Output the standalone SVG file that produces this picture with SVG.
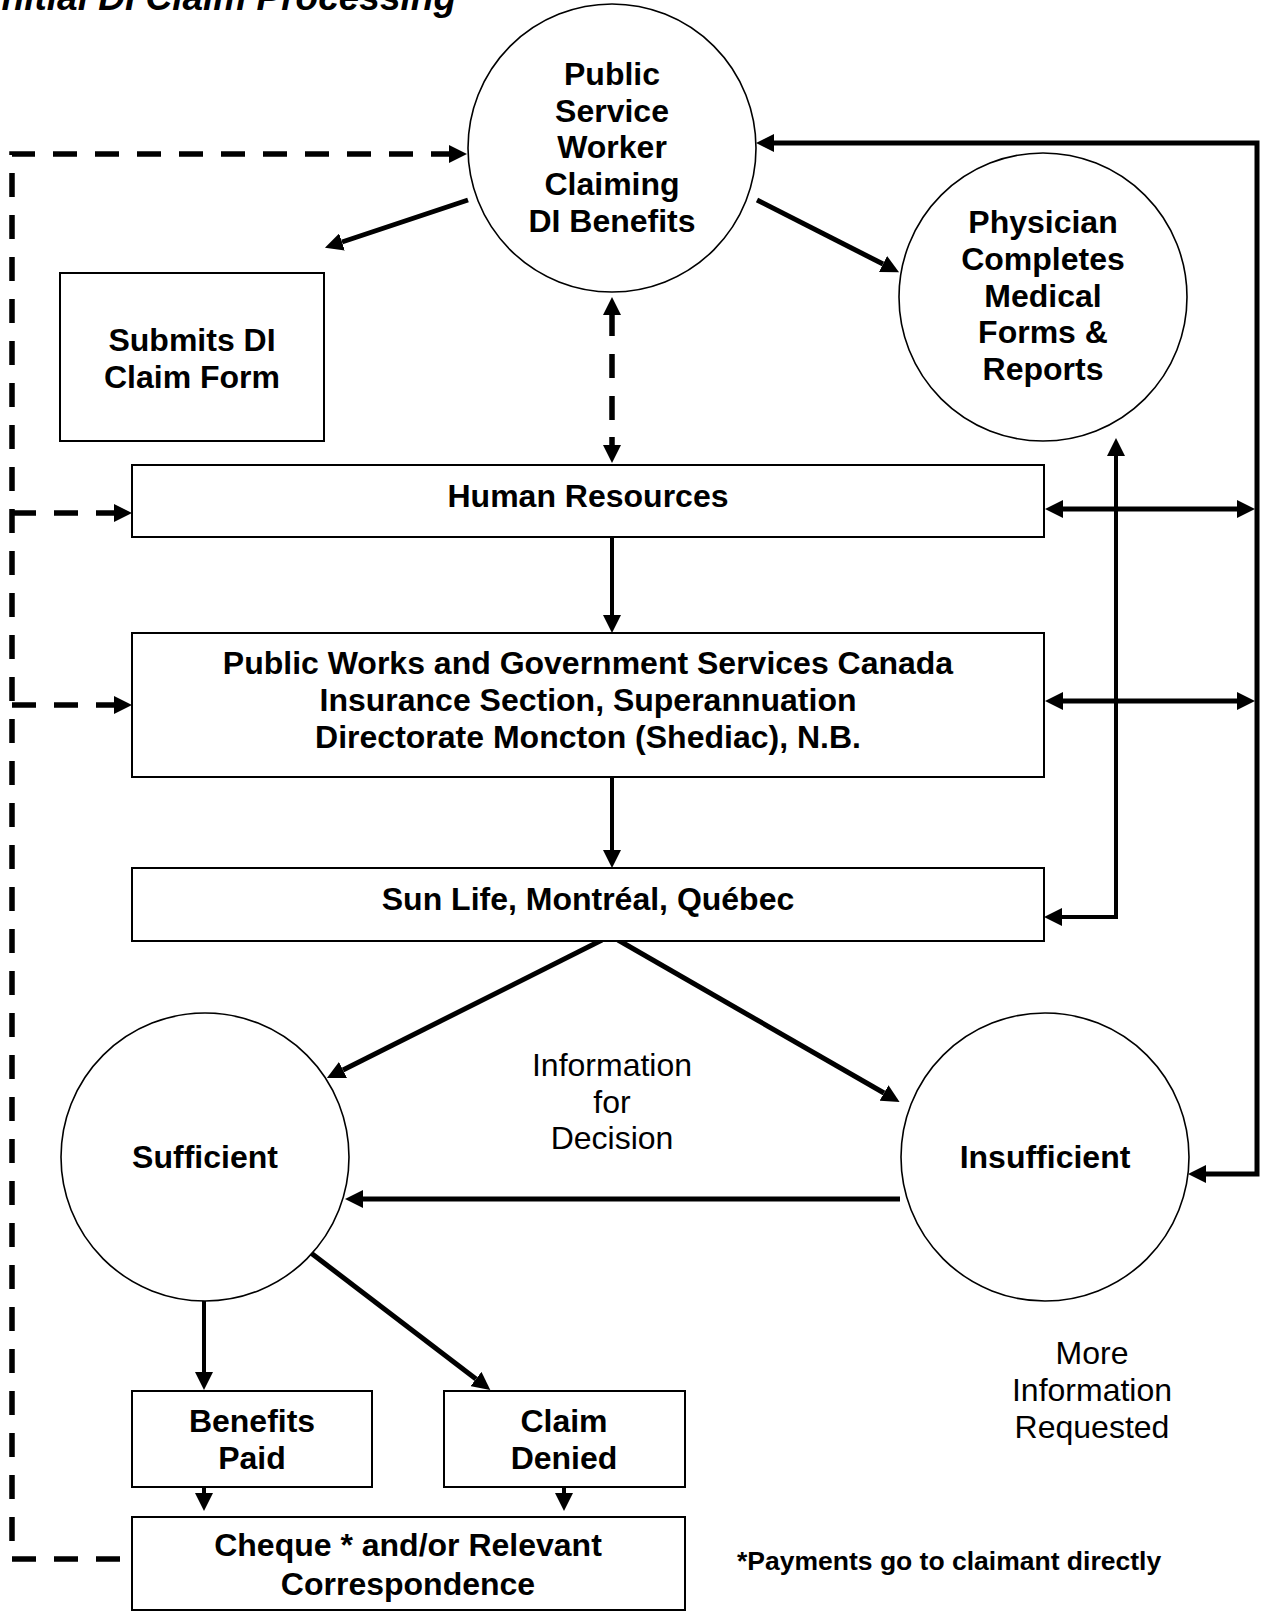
<svg xmlns="http://www.w3.org/2000/svg" width="1265" height="1612" viewBox="0 0 1265 1612">
<style>
.bg{fill:#ffffff}
.node{fill:#ffffff;stroke:#000000;stroke-width:2}
.circ{fill:#ffffff;stroke:#000000;stroke-width:1.6}
.t{font-family:"Liberation Sans",Arial,sans-serif;font-weight:bold;font-size:32px;text-anchor:middle;fill:#000}
.r{font-family:"Liberation Sans",Arial,sans-serif;font-size:32px;text-anchor:middle;fill:#000}
.title{font-family:"Liberation Sans",Arial,sans-serif;font-weight:bold;font-style:italic;font-size:37px;text-anchor:end;fill:#000}
.note{font-family:"Liberation Sans",Arial,sans-serif;font-weight:bold;font-size:26.5px;fill:#000}
.c{fill:none;stroke:#000;stroke-width:5}
.c4{fill:none;stroke:#000;stroke-width:4}
.d{fill:none;stroke:#000;stroke-width:5.5;stroke-dasharray:24 18}
</style>
<defs>
<marker id="arr" markerUnits="userSpaceOnUse" markerWidth="18" markerHeight="18" refX="0" refY="9" orient="auto-start-reverse" viewBox="0 0 18 18">
<path d="M0,0 L18,9 L0,18 z" fill="#000"/>
</marker>
</defs>
<rect class="bg" x="0" y="0" width="1265" height="1612"/>
<text class="title" x="456" y="10">Initial DI Claim Processing</text>

<g id="connectors">
<path class="d" d="M120,1559 H12 V154 H449" marker-end="url(#arr)"/>
<path class="d" d="M12,513 H114" marker-end="url(#arr)"/>
<path class="d" d="M12,705 H114" marker-end="url(#arr)"/>
<path class="c" d="M612,315 V445" style="stroke-width:5.5;stroke-dasharray:21 18 24 18 24 17 40" marker-start="url(#arr)" marker-end="url(#arr)"/>
<path class="c" d="M468,200 L342,242" marker-end="url(#arr)"/>
<path class="c" d="M757,200 L883,264" marker-end="url(#arr)"/>
<path class="c" d="M774,143 H1257 V1174 H1206" marker-start="url(#arr)" marker-end="url(#arr)"/>
<path class="c" d="M1063,509 H1237" marker-start="url(#arr)" marker-end="url(#arr)"/>
<path class="c" d="M1063,701 H1237" marker-start="url(#arr)" marker-end="url(#arr)"/>
<path class="c4" d="M1116,456 V917 H1062" marker-start="url(#arr)" marker-end="url(#arr)"/>
<path class="c4" d="M612,537 V615" marker-end="url(#arr)"/>
<path class="c4" d="M612,777 V850" marker-end="url(#arr)"/>
<path class="c" d="M602,940 L343,1070" marker-end="url(#arr)"/>
<path class="c" d="M618,940 L884,1093" marker-end="url(#arr)"/>
<path class="c" d="M900,1199 H363" marker-end="url(#arr)"/>
<path class="c4" d="M204,1301 V1372" marker-end="url(#arr)"/>
<path class="c" d="M311,1253 L476,1379" marker-end="url(#arr)"/>
<path class="c4" d="M204,1487 V1493" marker-end="url(#arr)"/>
<path class="c4" d="M564,1487 V1493" marker-end="url(#arr)"/>
</g>

<g id="worker">
<circle class="circ" cx="612" cy="148" r="144"/>
<text class="t" x="612" y="85">Public</text>
<text class="t" x="612" y="121.7">Service</text>
<text class="t" x="612" y="158.4">Worker</text>
<text class="t" x="612" y="195">Claiming</text>
<text class="t" x="612" y="231.8">DI Benefits</text>
</g>
<g id="physician">
<circle class="circ" cx="1043" cy="297" r="144"/>
<text class="t" x="1043" y="233">Physician</text>
<text class="t" x="1043" y="269.7">Completes</text>
<text class="t" x="1043" y="306.5">Medical</text>
<text class="t" x="1043" y="343.2">Forms &amp;</text>
<text class="t" x="1043" y="380">Reports</text>
</g>
<g id="submits">
<rect class="node" x="60" y="273" width="264" height="168"/>
<text class="t" x="192" y="351">Submits DI</text>
<text class="t" x="192" y="388">Claim Form</text>
</g>
<g id="hr">
<rect class="node" x="132" y="465" width="912" height="72"/>
<text class="t" x="588" y="507">Human Resources</text>
</g>
<g id="pwgsc">
<rect class="node" x="132" y="633" width="912" height="144"/>
<text class="t" x="588" y="674">Public Works and Government Services Canada</text>
<text class="t" x="588" y="711">Insurance Section, Superannuation</text>
<text class="t" x="588" y="748">Directorate Moncton (Shediac), N.B.</text>
</g>
<g id="sunlife">
<rect class="node" x="132" y="868" width="912" height="73"/>
<text class="t" x="588" y="910">Sun Life, Montréal, Québec</text>
</g>
<g id="decision-label">
<text class="r" x="612" y="1076">Information</text>
<text class="r" x="612" y="1113">for</text>
<text class="r" x="612" y="1149">Decision</text>
</g>
<g id="sufficient">
<circle class="circ" cx="205" cy="1157" r="144"/>
<text class="t" x="205" y="1168">Sufficient</text>
</g>
<g id="insufficient">
<circle class="circ" cx="1045" cy="1157" r="144"/>
<text class="t" x="1045" y="1168">Insufficient</text>
</g>
<g id="more-info">
<text class="r" x="1092" y="1364">More</text>
<text class="r" x="1092" y="1401">Information</text>
<text class="r" x="1092" y="1438">Requested</text>
</g>
<g id="benefits">
<rect class="node" x="132" y="1391" width="240" height="96"/>
<text class="t" x="252" y="1432">Benefits</text>
<text class="t" x="252" y="1469">Paid</text>
</g>
<g id="denied">
<rect class="node" x="444" y="1391" width="241" height="96"/>
<text class="t" x="564" y="1432">Claim</text>
<text class="t" x="564" y="1469">Denied</text>
</g>
<g id="cheque">
<rect class="node" x="132" y="1517" width="553" height="93"/>
<text class="t" x="408" y="1556">Cheque * and/or Relevant</text>
<text class="t" x="408" y="1595">Correspondence</text>
</g>
<g id="footnote">
<text class="note" x="737" y="1570">*Payments go to claimant directly</text>
</g>
</svg>
